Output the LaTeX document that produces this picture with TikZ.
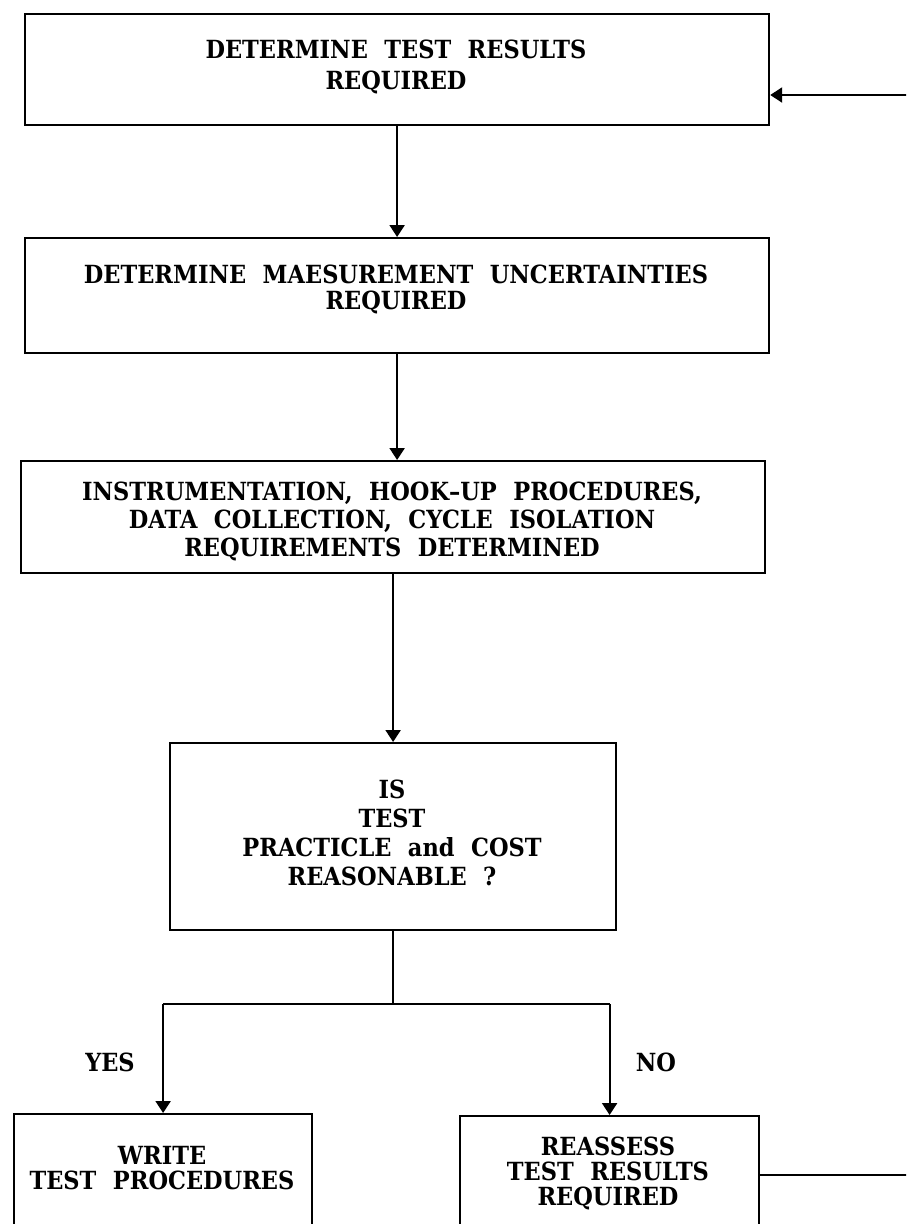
\documentclass[tikz,border=0pt]{standalone}
\usepackage{fontspec}
\newfontfamily\diafont{DejaVu Serif}[WordSpace=2.1, FakeStretch=0.9]
\usetikzlibrary{arrows.meta}
\begin{document}
\begin{tikzpicture}[x=1pt,y=-1pt,
  box/.style={draw, line width=2.2pt, anchor=north west, inner sep=0pt},
  txt/.style={font=\diafont\bfseries\fontsize{25}{#1}\selectfont, align=center, inner sep=0pt},
  txt/.default=27,
  conn/.style={line width=2.2pt},
  arr/.style={conn, -{Triangle[length=12pt,width=15pt]}},
  lbl/.style={font=\diafont\bfseries\fontsize{25}{27}\selectfont, inner sep=0pt}]
\useasboundingbox (0,0) rectangle (906,1224);
\clip (0,0) rectangle (906,1224);
% boxes
\node[box, minimum width=744, minimum height=111] (b1) at (24,13) {};
\node[box, minimum width=744, minimum height=115] (b2) at (24,237) {};
\node[box, minimum width=744, minimum height=112] (b3) at (20,460) {};
\node[box, minimum width=446, minimum height=187] (b4) at (169,742) {};
\node[box, minimum width=298, minimum height=140] (b5) at (13,1113) {};
\node[box, minimum width=299, minimum height=118] (b6) at (459,1115) {};
% texts
\node[txt=31] (t1) at (396,67) {DETERMINE TEST RESULTS\\REQUIRED};
\node[txt=26] (t2) at (396,289) {DETERMINE MAESUREMENT UNCERTAINTIES\\REQUIRED};
\node[txt=28] (t3) at (392,521) {INSTRUMENTATION, HOOK–UP PROCEDURES,\\DATA COLLECTION, CYCLE ISOLATION\\REQUIREMENTS DETERMINED};
\node[txt=29] (t4) at (392,833) {IS\\TEST\\PRACTICLE and COST\\REASONABLE ?};
\node[txt=25] (t5) at (162,1168) {WRITE\\TEST PROCEDURES};
\node[txt=25] (t6) at (608,1173) {REASSESS\\TEST RESULTS\\REQUIRED};
\node[lbl] (yes) at (110,1062) {YES};
\node[lbl] (no) at (656,1062) {NO};
% connectors
\coordinate (split) at (392,1004);
\coordinate (rb) at (925,1174);
\coordinate (rt) at (925,95);
\draw[arr] (b1.south) -- (b1.south |- b2.north);
\draw[arr] (b2.south) -- (b2.south |- b3.north);
\draw[arr] (b3.south) -- (b3.south |- b4.north);
\draw[conn] (b4.south) -- (b4.south |- split);
\draw[conn] (b5.north |- split) -- (b6.north |- split);
\draw[arr] (b5.north |- split) -- (b5.north);
\draw[arr] (b6.north |- split) -- (b6.north);
\draw[arr] (b6.east) -- (b6.east -| rb) -- (rt) -- (b1.east |- rt);
\end{tikzpicture}
\end{document}
